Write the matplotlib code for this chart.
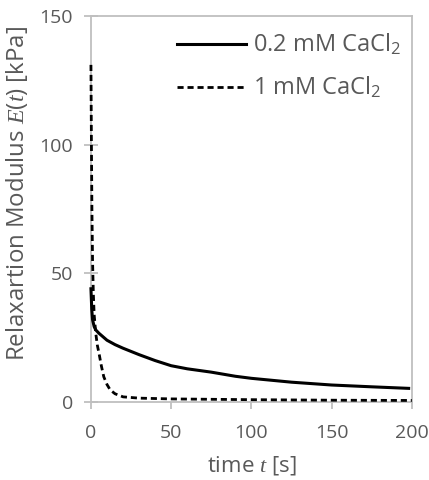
import matplotlib
matplotlib.use("Agg")
import matplotlib.pyplot as plt

# relaxation modulus
t_low = [0, 0.5, 1, 2, 3, 5, 10, 15, 20, 30, 40, 50, 60, 75, 90, 100, 125, 150, 175, 198]
E_low = [44, 36, 32, 29.3, 28, 26.7, 24, 22.3, 20.9, 18.4, 16.1, 14.1, 12.9, 11.6, 10.0, 9.2, 7.7, 6.6, 5.9, 5.3]

t_high = [0, 0.3, 0.6, 1, 1.5, 2, 3, 4, 5, 6.5, 8, 10, 12, 15, 20, 30, 50, 100, 150, 200]
E_high = [131, 100, 75, 55, 42, 34, 26.7, 22, 19, 14, 9.8, 6.8, 4.7, 3.2, 2.0, 1.5, 1.2, 0.9, 0.7, 0.6]

xticks = [0, 50, 100, 150, 200]
yticks = [0, 50, 100, 150]

plt.rcParams['font.family'] = ['Open Sans', 'DejaVu Sans']
plt.rcParams['mathtext.fontset'] = 'custom'
plt.rcParams['mathtext.it'] = 'Liberation Serif:italic'
plt.rcParams['mathtext.rm'] = 'Open Sans'

grey = '#595959'
spine = '#bfbfbf'

fig = plt.figure(figsize=(4.29, 4.8), dpi=100)
ax = fig.add_axes([0.212, 0.1625, 0.748, 0.8042])

ax.plot(t_low, E_low, color='black', lw=2.2, label='0.2 mM CaCl$_2$',
        clip_on=False, zorder=5)
ax.plot(t_high, E_high, color='black', lw=2.0, ls=(0, (2.2, 1.4)), label='1 mM CaCl$_2$',
        clip_on=False, zorder=5)

ax.set_xlim(0, 200)
ax.set_ylim(0, 150)
ax.set_xticks(xticks)
ax.set_yticks(yticks)
for s in ax.spines.values():
    s.set_color(spine)
    s.set_linewidth(1.3)
ax.tick_params(axis='y', direction='inout', length=10, width=1.3, color=spine,
               labelcolor=grey, labelsize=14, pad=8)
ax.tick_params(axis='x', direction='out', length=5, width=1.3, color=spine,
               labelcolor=grey, labelsize=14, pad=11)

ax.set_xlabel('time $t$ [s]', color=grey, fontsize=16)
ax.set_ylabel('Relaxartion Modulus $E(t)$ [kPa]', color=grey, fontsize=17.3)
ax.xaxis.set_label_coords(0.5, -0.135)
ax.yaxis.set_label_coords(-0.19, 0.54)

leg = ax.legend(loc='upper right', frameon=False, fontsize=17, handlelength=2.9,
                handletextpad=0.3, labelspacing=0.75, borderpad=0, borderaxespad=0,
                bbox_to_anchor=(0.967, 0.957))
for txt in leg.get_texts():
    txt.set_color(grey)

fig.savefig('out.png', dpi=100)
